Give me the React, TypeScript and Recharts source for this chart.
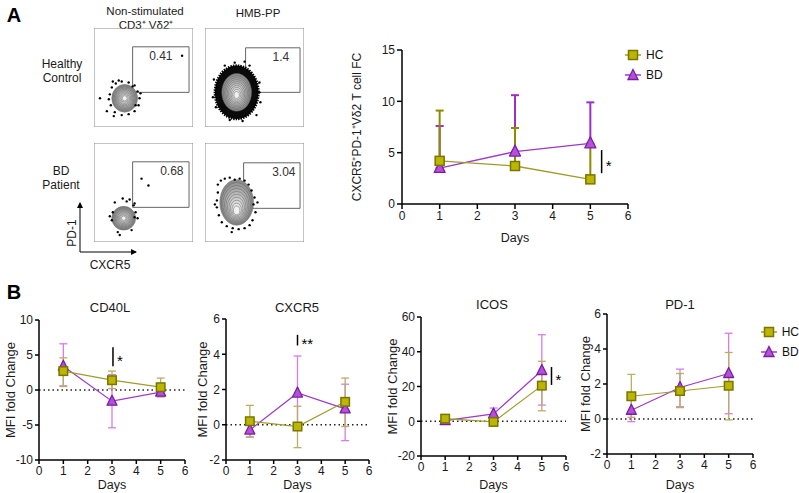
import React from "react";
import {
  ComposedChart, Line, ErrorBar, XAxis, YAxis, ReferenceLine, ReferenceArea,
  ScatterChart, Scatter, Legend
} from "recharts";

const FONT = '"Liberation Sans", Arial, Helvetica, sans-serif';

const HC = { name: 'HC', fill: '#bdb600', stroke: '#7a7500', line: '#a09c2a', errA: '#8e8a00', errB: '#b9ae64' };
const BD = { name: 'BD', fill: '#b550dc', stroke: '#7b1ca2', line: '#9d38c8', errA: '#9a2fc9', errB: '#d67ce9' };

const DAYS = [1, 3, 5];
const DAY_TICKS = [0, 1, 2, 3, 4, 5, 6];

// panel A: CXCR5+PD-1+ Vd2 fold change (only upper SD shown)
const A_HC = [4.2, 3.7, 2.4];
const A_HC_UP = [9.1, 7.4, 5.6];
const A_BD = [3.5, 5.1, 5.9];
const A_BD_UP = [7.6, 10.6, 9.9];
const A_TICKS = [0, 5, 10, 15];

// panel B: MFI fold change
const CD40L_HC = [2.7, 1.4, 0.4];
const CD40L_HC_LO = [0.5, 0.2, -1.0];
const CD40L_HC_HI = [4.6, 2.7, 1.7];
const CD40L_BD = [3.4, -1.6, -0.3];
const CD40L_BD_LO = [0.6, -5.4, -0.9];
const CD40L_BD_HI = [6.6, 2.2, 0.2];

const CXCR5_HC = [0.2, -0.1, 1.3];
const CXCR5_HC_LO = [-0.7, -1.3, -0.1];
const CXCR5_HC_HI = [1.1, 1.05, 2.65];
const CXCR5_BD = [-0.3, 1.8, 0.9];
const CXCR5_BD_LO = [-0.7, -0.3, -0.9];
const CXCR5_BD_HI = [0.1, 3.9, 2.3];

const ICOS_HC = [1.5, -0.4, 20.5];
const ICOS_HC_LO = [0.2, -1.2, 6.0];
const ICOS_HC_HI = [2.8, 0.5, 34.5];
const ICOS_BD = [0.4, 4.2, 29.2];
const ICOS_BD_LO = [-0.8, 1.0, 9.3];
const ICOS_BD_HI = [1.6, 7.6, 49.8];

const PD1_HC = [1.3, 1.6, 1.9];
const PD1_HC_LO = [0.1, 0.65, -0.05];
const PD1_HC_HI = [2.55, 2.6, 3.8];
const PD1_BD = [0.5, 1.8, 2.6];
const PD1_BD_LO = [-0.15, 0.7, 0.3];
const PD1_BD_HI = [1.1, 2.85, 4.9];

// flow cytometry plots (0-100 display units)
const FLOW_TICKS = [4, 8, 11, 14, 17, 20, 22, 24, 26, 27, 28, 40, 55, 63, 68, 72, 75, 77, 79, 80, 92];
const P1_POP = [{ x: 31, y: 29, rx: 13, ry: 14, shift: 0 }];
const P1_DOTS = [[16, 33], [18, 40], [22, 44], [28, 46], [35, 45], [41, 42], [44, 36], [46, 29], [45, 22], [41, 16], [35, 13], [28, 12], [21, 15], [17, 22], [15, 28], [6, 29], [13, 16], [19, 46], [42, 22], [89, 72], [39, 41], [20, 11], [47, 34], [25, 47]];
const P2_POP = [{ x: 32, y: 35, rx: 15, ry: 19, shift: 3, ring: [22, 27] }];
const P2_DOTS = [[8, 30], [9, 48], [11, 20], [55, 45], [56, 25], [30, 65], [20, 62], [45, 62], [52, 12], [25, 7], [38, 6], [12, 40], [55, 35], [40, 66]];
const P3_POP = [{ x: 30, y: 24, rx: 12, ry: 12, shift: 0 }];
const P3_DOTS = [[21, 40], [29, 44], [36, 43], [40, 37], [41, 25], [18, 22], [19, 30], [26, 7], [48, 64], [55, 57], [38, 12], [16, 26], [42, 30], [24, 10], [44, 24], [41, 39], [33, 41]];
const P4_POP = [{ x: 32, y: 40, rx: 17, ry: 23, shift: 9 }];
const P4_DOTS = [[13, 58], [16, 62], [20, 64], [25, 65], [30, 63], [35, 64], [40, 62], [44, 58], [47, 52], [50, 45], [49, 38], [51, 30], [48, 22], [45, 17], [40, 14], [34, 13], [28, 14], [22, 16], [17, 20], [14, 27], [12, 35], [12, 42], [13, 50], [53, 40], [10, 38], [27, 10]];

const FLOW_W = 99;
const FLOW_H = 99;

const Contour = (p: any) => {
  const { cx, cy, payload } = p;
  if (cx == null) return <g />;
  const kx = FLOW_W / 100, ky = FLOW_H / 100;
  const rx = payload.rx * kx, ry = payload.ry * ky, sh = payload.shift * ky;
  const out: any[] = [];
  if (payload.ring) {
    out.push(<ellipse key="ring" cx={cx} cy={cy} rx={payload.ring[0] * kx} ry={payload.ring[1] * ky} fill="#0a0a0a" stroke="#000" strokeWidth={2.5} strokeDasharray="1.5 1" />);
  }
  const n = 10;
  for (let i = 0; i < n; i++) {
    const t = i / n;
    const g = Math.round(140 + 112 * t);
    out.push(
      <ellipse key={i} cx={cx} cy={cy + sh * t} rx={rx * (1 - t * 0.9)} ry={ry * (1 - t * 0.9)}
        fill={`rgb(${g},${g},${g})`} stroke="#5e5e5e" strokeWidth={0.5} />
    );
  }
  return <g>{out}</g>;
};

const FlowDot = (p: any) => (p.cx == null ? <g /> : <circle cx={p.cx} cy={p.cy} r={1.2} fill="#000" />);

const FlowPlot = ({ left, top, pop, dots, gate, label, labelDx }: any) => {
  const pts = dots.map((d: number[]) => ({ x: d[0], y: d[1] }));
  return (
    <div style={{ position: 'absolute', left, top }}>
      <ScatterChart width={FLOW_W} height={FLOW_H} margin={{ top: 0, right: 0, bottom: 0, left: 0 }}>
        <XAxis type="number" dataKey="x" domain={[0, 100]} ticks={FLOW_TICKS} mirror tick={false} axisLine={false} tickSize={2} tickLine={{ stroke: '#666' }} />
        <YAxis type="number" dataKey="y" domain={[0, 100]} ticks={FLOW_TICKS} mirror tick={false} axisLine={false} tickSize={2} tickLine={{ stroke: '#666' }} />
        <ReferenceArea x1={0} x2={100} y1={0} y2={100} fill="none" stroke="#8a8a8a" strokeWidth={1} fillOpacity={0} />
        <Scatter data={pop} shape={Contour} isAnimationActive={false} />
        <Scatter data={pts} shape={FlowDot} isAnimationActive={false} />
        <ReferenceArea x1={gate[0]} x2={gate[1]} y1={gate[2]} y2={gate[3]} fill="none" fillOpacity={0} stroke="#666" strokeWidth={1}
          label={{ value: label, position: 'insideTop', offset: 5, dx: labelDx, fontSize: 12, fill: '#333', fontFamily: FONT }} />
      </ScatterChart>
    </div>
  );
};

const Square = (s: any, size: number) => (p: any) =>
  p.cx == null ? <g key={`s-${p.index}`} /> : (
    <rect key={`s-${p.index}`} x={p.cx - size / 2} y={p.cy - size / 2} width={size} height={size} fill={s.fill} stroke={s.stroke} strokeWidth={1.5} />
  );

const Tri = (s: any, size: number) => (p: any) =>
  p.cx == null ? <g key={`t-${p.index}`} /> : (
    <path key={`t-${p.index}`} d={`M${p.cx},${p.cy - size * 0.6} L${p.cx + size / 2},${p.cy + size * 0.4} L${p.cx - size / 2},${p.cy + size * 0.4} Z`}
      fill={s.fill} stroke={s.stroke} strokeWidth={1.3} strokeLinejoin="round" />
  );

const KeyContent = () => (
  <div style={{ fontFamily: FONT, fontSize: 12, color: '#111' }}>
    {[HC, BD].map((s) => (
      <div key={s.name} style={{ display: 'flex', alignItems: 'center', height: 20 }}>
        <svg width={16} height={14}>
          <line x1={0} x2={16} y1={7} y2={7} stroke={s.line} strokeWidth={1.5} />
          {s.name === 'HC'
            ? <rect x={3.5} y={2.5} width={9} height={9} fill={s.fill} stroke={s.stroke} strokeWidth={1.5} />
            : <path d="M8,1.5 L13,11.5 L3,11.5 Z" fill={s.fill} stroke={s.stroke} strokeWidth={1.3} />}
        </svg>
        <span style={{ marginLeft: 5 }}>{s.name}</span>
      </div>
    ))}
  </div>
);

const tickStyle = { fontSize: 12, fill: '#1a1a1a', fontFamily: FONT };
const axisStyle = { stroke: '#000', strokeWidth: 1.5 };

const PanelA = () => {
  const rows = DAYS.map((d, i) => ({
    day: d,
    hc: A_HC[i], hcErr: [0, A_HC_UP[i] - A_HC[i]],
    bd: A_BD[i], bdErr: [0, A_BD_UP[i] - A_BD[i]],
  }));
  return (
    <div style={{ position: 'absolute', left: 340, top: 40 }}>
      <ComposedChart width={300} height={210} data={rows} margin={{ top: 10, right: 12, left: 0, bottom: 0 }}>
        <XAxis type="number" dataKey="day" domain={[0, 6]} ticks={DAY_TICKS} height={46} tick={tickStyle} tickSize={5} axisLine={axisStyle} tickLine={axisStyle}
          label={{ value: 'Days', position: 'insideBottom', offset: 8, fontSize: 12.5, fill: '#1a1a1a', fontFamily: FONT }} />
        <YAxis type="number" domain={[0, 15]} ticks={A_TICKS} width={62} tick={tickStyle} tickSize={5} axisLine={axisStyle} tickLine={axisStyle}
          label={{ value: 'CXCR5⁺PD-1⁺Vδ2 T cell FC', angle: -90, position: 'insideLeft', offset: 17, fontSize: 12, fill: '#1a1a1a', fontFamily: FONT, style: { textAnchor: 'middle' } }} />
        <ReferenceLine segment={[{ x: 5.3, y: 5.25 }, { x: 5.3, y: 3.0 }]} stroke="#000" strokeWidth={1.5}
          label={{ value: '*', position: 'right', offset: 4, dy: 4, fontSize: 15, fill: '#000', fontFamily: FONT }} />
        <Line dataKey="bd" stroke={BD.line} strokeWidth={1.3} dot={Tri(BD, 11)} isAnimationActive={false}>
          <ErrorBar dataKey="bdErr" width={4} stroke={BD.errA} strokeWidth={2} direction="y" />
        </Line>
        <Line dataKey="hc" stroke={HC.line} strokeWidth={1.3} dot={Square(HC, 9)} isAnimationActive={false}>
          <ErrorBar dataKey="hcErr" width={4} stroke={HC.errA} strokeWidth={2} direction="y" />
        </Line>
        <Legend content={<KeyContent />} layout="vertical" align="center" verticalAlign="middle" wrapperStyle={{ left: 285, top: 5, width: 60 }} />
      </ComposedChart>
    </div>
  );
};

const B_SPECS = [
  { key: 'cd40l', left: 0, w: 195, mt: 30, mr: 10, yw: 39, xh: 33, lo: 10, domain: [-10, 10], ticks: [-10, -5, 0, 5, 10],
    hc: CD40L_HC, hcLo: CD40L_HC_LO, hcHi: CD40L_HC_HI, bd: CD40L_BD, bdLo: CD40L_BD_LO, bdHi: CD40L_BD_HI,
    sig: { x: 3.04, y1: 6.1, y2: 3.4, text: '*' } },
  { key: 'cxcr5', left: 188, w: 191, mt: 29, mr: 10, yw: 38, xh: 33, lo: 14, domain: [-2, 6], ticks: [-2, 0, 2, 4, 6],
    hc: CXCR5_HC, hcLo: CXCR5_HC_LO, hcHi: CXCR5_HC_HI, bd: CXCR5_BD, bdLo: CXCR5_BD_LO, bdHi: CXCR5_BD_HI,
    sig: { x: 3.0, y1: 5.1, y2: 4.5, text: '**' } },
  { key: 'icos', left: 382, w: 194, mt: 27, mr: 10, yw: 39, xh: 37, lo: 10, domain: [-20, 60], ticks: [-20, 0, 20, 40, 60],
    hc: ICOS_HC, hcLo: ICOS_HC_LO, hcHi: ICOS_HC_HI, bd: ICOS_BD, bdLo: ICOS_BD_LO, bdHi: ICOS_BD_HI,
    sig: { x: 5.4, y1: 31.2, y2: 20.9, text: '*' } },
  { key: 'pd1', left: 575, w: 224, mt: 24, mr: 46, yw: 32, xh: 39, lo: 10, domain: [-2, 6], ticks: [-2, 0, 2, 4, 6],
    hc: PD1_HC, hcLo: PD1_HC_LO, hcHi: PD1_HC_HI, bd: PD1_BD, bdLo: PD1_BD_LO, bdHi: PD1_BD_HI,
    sig: null, legend: true },
];

const MiniChart = ({ spec }: any) => {
  const rows = DAYS.map((d, i) => ({
    day: d,
    hc: spec.hc[i], hcErr: [spec.hc[i] - spec.hcLo[i], spec.hcHi[i] - spec.hc[i]],
    bd: spec.bd[i], bdErr: [spec.bd[i] - spec.bdLo[i], spec.bdHi[i] - spec.bd[i]],
  }));
  return (
    <div style={{ position: 'absolute', left: spec.left, top: 290 }}>
      <ComposedChart width={spec.w} height={203} data={rows} margin={{ top: spec.mt, right: spec.mr, left: 0, bottom: 0 }}>
        <XAxis type="number" dataKey="day" domain={[0, 6]} ticks={DAY_TICKS} height={spec.xh} tick={tickStyle} tickSize={4} axisLine={axisStyle} tickLine={axisStyle}
          label={{ value: 'Days', position: 'insideBottom', offset: 4, fontSize: 12.5, fill: '#1a1a1a', fontFamily: FONT }} />
        <YAxis type="number" domain={spec.domain} ticks={spec.ticks} width={spec.yw} tick={tickStyle} tickSize={4} axisLine={axisStyle} tickLine={axisStyle}
          label={{ value: 'MFI fold Change', angle: -90, position: 'insideLeft', offset: spec.lo, fontSize: 13, fill: '#1a1a1a', fontFamily: FONT, style: { textAnchor: 'middle' } }} />
        <ReferenceLine y={0} stroke="#222" strokeWidth={1.4} strokeDasharray="1.5 3" />
        {spec.sig && (
          <ReferenceLine segment={[{ x: spec.sig.x, y: spec.sig.y1 }, { x: spec.sig.x, y: spec.sig.y2 }]} stroke="#000" strokeWidth={1.5}
            label={{ value: spec.sig.text, position: 'right', offset: 4, dy: 4, fontSize: 15, fill: '#000', fontFamily: FONT }} />
        )}
        <Line dataKey="bd" stroke={BD.line} strokeWidth={1.2} dot={Tri(BD, 10)} isAnimationActive={false}>
          <ErrorBar dataKey="bdErr" width={4} stroke={BD.errB} strokeWidth={1.3} direction="y" />
        </Line>
        <Line dataKey="hc" stroke={HC.line} strokeWidth={1.2} dot={Square(HC, 8.5)} isAnimationActive={false}>
          <ErrorBar dataKey="hcErr" width={4} stroke={HC.errB} strokeWidth={1.3} direction="y" />
        </Line>
        {spec.legend && (
          <Legend content={<KeyContent />} layout="vertical" align="center" verticalAlign="middle" wrapperStyle={{ left: 186, top: 32, width: 38 }} />
        )}
      </ComposedChart>
    </div>
  );
};

const T = (props: any) => <text fontFamily={FONT} fill="#1a1a1a" textAnchor="middle" dominantBaseline="central" {...props} />;

const Annotations = () => (
  <svg width={799} height={493} style={{ position: 'absolute', left: 0, top: 0 }}>
    <defs>
      <marker id="arr" markerWidth="6" markerHeight="6" refX="5" refY="3" orient="auto">
        <path d="M0,0 L6,3 L0,6 Z" fill="#000" />
      </marker>
    </defs>
    <T x={14} y={15} fontSize={20} fontWeight="bold" fill="#000">A</T>
    <T x={14} y={292} fontSize={20} fontWeight="bold" fill="#000">B</T>
    <T x={145} y={11} fontSize={11.5}>Non-stimulated</T>
    <T x={146} y={25} fontSize={11.5}>CD3⁺ Vδ2⁺</T>
    <T x={258} y={13} fontSize={11.5}>HMB-PP</T>
    <T x={62} y={64} fontSize={12}>Healthy</T>
    <T x={62} y={78} fontSize={12}>Control</T>
    <T x={61} y={171} fontSize={12}>BD</T>
    <T x={61} y={185} fontSize={12}>Patient</T>
    <line x1={80} y1={252} x2={80} y2={203} stroke="#000" strokeWidth={1} markerEnd="url(#arr)" />
    <line x1={80} y1={252} x2={136} y2={252} stroke="#000" strokeWidth={1} markerEnd="url(#arr)" />
    <T x={72} y={233} fontSize={12} transform="rotate(-90 72 233)">PD-1</T>
    <T x={110} y={265} fontSize={12}>CXCR5</T>
    <T x={110} y={307} fontSize={13}>CD40L</T>
    <T x={297} y={307} fontSize={13}>CXCR5</T>
    <T x={492} y={304} fontSize={13}>ICOS</T>
    <T x={680} y={304} fontSize={13}>PD-1</T>
  </svg>
);

export default function App() {
  return (
    <div style={{ position: 'absolute', left: 0, top: 0, width: 799, height: 493, background: '#fff', fontFamily: FONT, overflow: 'hidden' }}>
      <Annotations />
      <FlowPlot left={94} top={28} pop={P1_POP} dots={P1_DOTS} gate={[39, 96, 35, 81]} label="0.41" labelDx={0} />
      <FlowPlot left={205} top={28} pop={P2_POP} dots={P2_DOTS} gate={[41, 96, 35, 80]} label="1.4" labelDx={8} />
      <FlowPlot left={94} top={143} pop={P3_POP} dots={P3_DOTS} gate={[39, 96, 35, 81]} label="0.68" labelDx={11} />
      <FlowPlot left={205} top={143} pop={P4_POP} dots={P4_DOTS} gate={[39, 96, 34, 80]} label="3.04" labelDx={12} />
      <PanelA />
      {B_SPECS.map((s) => <MiniChart key={s.key} spec={s} />)}
    </div>
  );
}
